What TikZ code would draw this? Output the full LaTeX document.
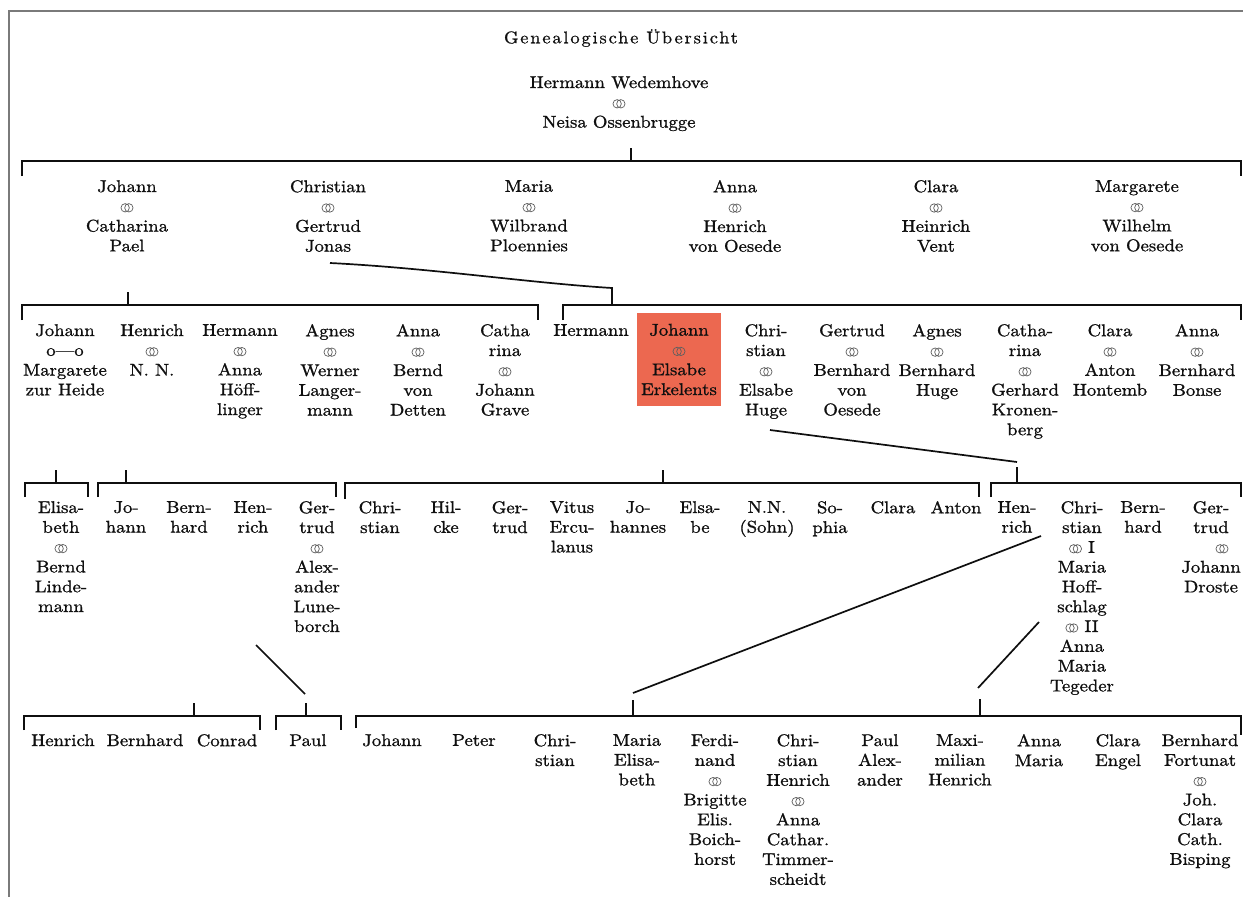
\documentclass[tikz,border=0pt]{standalone}
\usepackage{fontspec}
\newfontfamily\sabon{lmroman10-regular}[Extension=.otf, FakeBold=1.1, FakeStretch=1.1]
\newfontfamily\sabontitle{lmroman10-regular}[Extension=.otf, FakeBold=0.8, FakeStretch=1.08, LetterSpace=11]
\definecolor{boxred}{RGB}{236,104,80}
\definecolor{ringgray}{RGB}{95,95,95}
\definecolor{ink}{RGB}{15,15,15}
\newcommand{\rg}{\tikz[baseline=0pt]\draw[ringgray,line width=0.7pt] (0pt,4pt) circle[radius=4.2pt] (3.7pt,4pt) circle[radius=4.2pt];}
\newcommand{\famBar}[3]{\draw[conn] (#1) -- (#1 |- #3) -- (#2 |- #3) -- (#2);}
\tikzset{
  person/.style={align=center, inner sep=0pt, anchor=north, text=ink,
    font=\sabon\fontsize{17}{19.8}\selectfont},
  conn/.style={draw=ink, line width=1.7pt},
}
\begin{document}
\begin{tikzpicture}[x=1pt,y=-1pt]
\useasboundingbox (0,0) rectangle (1243,897);
\fill[white] (0,0) rectangle (1243,897);
% frame
\draw[gray!70!black!80, line width=1.3pt] (9,897) -- (9,11) -- (1243,11);

% title and root
\node[text=ink, inner sep=0pt, font=\sabontitle\fontsize{17}{19}\selectfont] (title) at (621,38) {Genealogische Übersicht};
\node[person] (root) at (619,76) {Hermann Wedemhove\\\rg\\Neisa Ossenbrugge};

% level 1 bar
\coordinate (s1t) at (631,148);
\coordinate (s1) at (631,161);
\coordinate (b1l) at (22,176);
\coordinate (b1r) at (1241,176);
\draw[conn] (s1t) -- (s1);
\famBar{b1l}{b1r}{s1}

% level 2
\node[person] (g2a) at (127,180) {Johann\\\rg\\Catharina\\Pael};
\node[person] (g2b) at (328,180) {Christian\\\rg\\Gertrud\\Jonas};
\node[person] (g2c) at (529,180) {Maria\\\rg\\Wilbrand\\Ploennies};
\node[person] (g2d) at (735,180) {Anna\\\rg\\Henrich\\von Oesede};
\node[person] (g2e) at (936,180) {Clara\\\rg\\Heinrich\\Vent};
\node[person] (g2f) at (1137,180) {Margarete\\\rg\\Wilhelm\\von Oesede};

% level 3 bars
\coordinate (s2at) at (128,292);
\coordinate (s2a) at (128,305);
\coordinate (b2al) at (22,320);
\coordinate (b2ar) at (538,320);
\draw[conn] (s2at) -- (s2a);
\famBar{b2al}{b2ar}{s2a}
\coordinate (d2b) at (330,263);
\coordinate (s2bt) at (612,288);
\coordinate (s2b) at (612,305);
\coordinate (b2bl) at (563,320);
\coordinate (b2br) at (1241,320);
\draw[conn] (d2b) .. controls (430,268) and (530,283) .. (s2bt) -- (s2b);
\famBar{b2bl}{b2br}{s2b}

% level 3 persons
\node[person] (g3a) at (65,324) {Johann\\o—o\\Margarete\\zur Heide};
\node[person] (g3b) at (152,324) {Henrich\\\rg\\N. N.};
\node[person] (g3c) at (240,324) {Hermann\\\rg\\Anna\\Höff-\\linger};
\node[person] (g3d) at (330,324) {Agnes\\\rg\\Werner\\Langer-\\mann};
\node[person] (g3e) at (418,324) {Anna\\\rg\\Bernd\\von\\Detten};
\node[person] (g3f) at (505,324) {Catha\\rina\\\rg\\Johann\\Grave};
\node[person] (g3g) at (591,324) {Hermann};
\node[person, anchor=center, fill=boxred, minimum width=84pt, minimum height=93pt] (g3h) at (679,359.5) {Johann\\\rg\\Elsabe\\Erkelents};
\node[person] (g3i) at (766,324) {Chri-\\stian\\\rg\\Elsabe\\Huge};
\node[person] (g3j) at (852,324) {Gertrud\\\rg\\Bernhard\\von\\Oesede};
\node[person] (g3k) at (937,324) {Agnes\\\rg\\Bernhard\\Huge};
\node[person] (g3l) at (1025,324) {Catha-\\rina\\\rg\\Gerhard\\Kronen-\\berg};
\node[person] (g3m) at (1110,324) {Clara\\\rg\\Anton\\Hontemb};
\node[person] (g3n) at (1197,324) {Anna\\\rg\\Bernhard\\Bonse};

% level 4 bars
\coordinate (s3at) at (56,470);  \coordinate (s3a) at (56,483);
\coordinate (b3al) at (25,497);  \coordinate (b3ar) at (88,497);
\coordinate (s3bt) at (126,470); \coordinate (s3b) at (126,483);
\coordinate (b3bl) at (98,497);  \coordinate (b3br) at (336,497);
\coordinate (s3ct) at (663,470); \coordinate (s3c) at (663,483);
\coordinate (b3cl) at (345,499); \coordinate (b3cr) at (979,497);
\coordinate (d3i) at (770,430);
\coordinate (d3e) at (1017,462);
\coordinate (s3dt) at (1017,467); \coordinate (s3d) at (1017,483);
\coordinate (b3dl) at (991,497); \coordinate (b3dr) at (1241,497);
\draw[conn] (s3at) -- (s3a);
\famBar{b3al}{b3ar}{s3a}
\draw[conn] (s3bt) -- (s3b);
\famBar{b3bl}{b3br}{s3b}
\draw[conn] (s3ct) -- (s3c);
\famBar{b3cl}{b3cr}{s3c}
\draw[conn] (d3i) -- (d3e);
\draw[conn] (s3dt) -- (s3d);
\famBar{b3dl}{b3dr}{s3d}

% level 4 persons
\node[person] (g4a) at (61,501) {Elisa-\\beth\\\rg\\Bernd\\Linde-\\mann};
\node[person] (g4b) at (126,501) {Jo-\\hann};
\node[person] (g4c) at (189,501) {Bern-\\hard};
\node[person] (g4d) at (253,501) {Hen-\\rich};
\node[person] (g4e) at (317,501) {Ger-\\trud\\\rg\\Alex-\\ander\\Lune-\\borch};
\node[person] (g4f) at (380,501) {Chri-\\stian};
\node[person] (g4g) at (446,501) {Hil-\\cke};
\node[person] (g4h) at (510,501) {Ger-\\trud};
\node[person] (g4i) at (572,501) {Vitus\\Ercu-\\lanus};
\node[person] (g4j) at (638,501) {Jo-\\hannes};
\node[person] (g4k) at (700,501) {Elsa-\\be};
\node[person] (g4l) at (767,501) {N.N.\\(Sohn)};
\node[person] (g4m) at (830,501) {So-\\phia};
\node[person] (g4n) at (893,501) {Clara};
\node[person] (g4o) at (956,501) {Anton};
\node[person] (g4p) at (1017,501) {Hen-\\rich};
\node[person] (g4q) at (1082,501) {Chri-\\stian\\\rg{} I\\Maria\\Hoff-\\schlag\\\rg{} II\\Anna\\Maria\\Tegeder};
\node[person] (g4r) at (1143,501) {Bern-\\hard};
\node[person] (g4s) at (1211,501) {Ger-\\trud\\\hspace*{22pt}\rg\\Johann\\Droste};

% level 5 connectors
\coordinate (d4e) at (256,645);  \coordinate (d4ee) at (305,694);
\coordinate (s4pt) at (306,703); \coordinate (s4p) at (306,716);
\coordinate (b4pl) at (276,730); \coordinate (b4pr) at (341,730);
\coordinate (s4at) at (194,703); \coordinate (s4a) at (194,716);
\coordinate (b4al) at (24,730);  \coordinate (b4ar) at (260,730);
\coordinate (d4q1) at (1041,536); \coordinate (d4q1e) at (633,693);
\coordinate (s4ct) at (633,700); \coordinate (s4c) at (633,716);
\coordinate (d4q2) at (1039,622); \coordinate (d4q2e) at (978,688);
\coordinate (s4dt) at (980,699); \coordinate (s4d) at (980,716);
\coordinate (b4cl) at (356,728); \coordinate (b4cr) at (1241,735);
\draw[conn] (d4e) -- (d4ee);
\draw[conn] (s4pt) -- (s4p);
\famBar{b4pl}{b4pr}{s4p}
\draw[conn] (s4at) -- (s4a);
\famBar{b4al}{b4ar}{s4a}
\draw[conn] (d4q1) -- (d4q1e);
\draw[conn] (d4q2) -- (d4q2e);
\draw[conn] (s4ct) -- (s4c);
\draw[conn] (s4dt) -- (s4d);
\famBar{b4cl}{b4cr}{s4c}

% level 5 persons
\node[person] (g5a) at (63,734) {Henrich};
\node[person] (g5b) at (145,734) {Bernhard};
\node[person] (g5c) at (227,734) {Conrad};
\node[person] (g5d) at (308,734) {Paul};
\node[person] (g5e) at (392,734) {Johann};
\node[person] (g5f) at (474,734) {Peter};
\node[person] (g5g) at (555,734) {Chri-\\stian};
\node[person] (g5h) at (637,734) {Maria\\Elisa-\\beth};
\node[person] (g5i) at (715,734) {Ferdi-\\nand\\\rg\\Brigitte\\Elis.\\Boich-\\horst};
\node[person] (g5j) at (798,734) {Chri-\\stian\\Henrich\\\rg\\Anna\\Cathar.\\Timmer-\\scheidt};
\node[person] (g5k) at (880,734) {Paul\\Alex-\\ander};
\node[person] (g5l) at (960,734) {Maxi-\\milian\\Henrich};
\node[person] (g5m) at (1039,734) {Anna\\Maria};
\node[person] (g5n) at (1118,734) {Clara\\Engel};
\node[person] (g5o) at (1200,734) {Bernhard\\Fortunat\\\rg\\Joh.\\Clara\\Cath.\\Bisping};
\end{tikzpicture}
\end{document}
